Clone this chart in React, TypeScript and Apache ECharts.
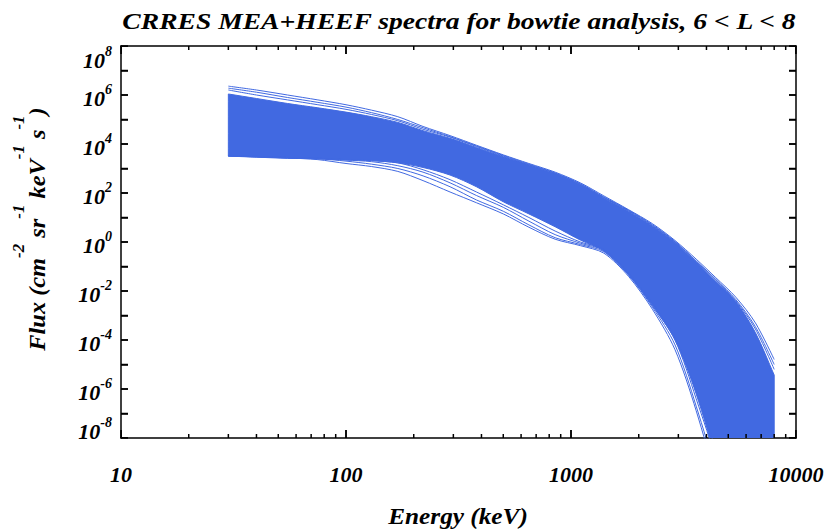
import React, { useEffect, useRef } from "react";
import * as echarts from "echarts";

// ---- data ----
const ENERGY_KEV = [30, 40, 55, 75, 100, 130, 170, 220, 290, 380, 500, 650, 850, 1100, 1400, 1800, 2300, 2900, 3600, 4400, 5400, 6600, 8000];

// envelope of the dense bundle of spectra
const BAND_UPPER = [1.1e6, 7.2e5, 4.5e5, 3.0e5, 2.0e5, 1.3e5, 7.6e4, 3.5e4, 1.7e4, 7.2e3, 3.0e3, 1.4e3, 620, 220, 63, 18, 4.5, 0.95, 0.15, 0.025, 3.7e-3, 2.0e-4, 3.7e-6];
const BAND_LOWER = [3.2e3, 3.0e3, 2.7e3, 2.5e3, 2.3e3, 2.1e3, 1.7e3, 1.1e3, 540, 180, 44, 14, 4.2, 1.2, 0.43, 0.047, 2.6e-3, 1.0e-4, 6.3e-7, 1e-9, 1e-14, 1e-20, 1e-26];

// individual spectra visible on the upper fringe
const UPPER_SPEC_1 = [2.3e6, 1.6e6, 1.0e6, 6.3e5, 4.0e5, 2.4e5, 1.3e5, 5.2e4, 2.2e4, 8.9e3, 3.6e3, 1.6e3, 710, 260, 76, 21, 5.6, 1.15, 0.2, 0.035, 5.6e-3, 5.0e-4, 1.6e-5];
const UPPER_SPEC_2 = [1.9e6, 1.3e6, 7.9e5, 5.0e5, 3.2e5, 1.9e5, 1.0e5, 4.6e4, 2.0e4, 8.3e3, 3.4e3, 1.5e3, 660, 240, 69, 20, 5.1, 1.05, 0.17, 0.030, 4.5e-3, 3.5e-4, 1.0e-5];
const UPPER_SPEC_3 = [1.6e6, 1.0e6, 6.3e5, 4.0e5, 2.6e5, 1.6e5, 8.9e4, 4.0e4, 1.9e4, 7.9e3, 3.2e3, 1.4e3, 630, 230, 66, 19, 4.8, 1.0, 0.16, 0.028, 4.0e-3, 2.8e-4, 6.3e-6];

// individual spectra visible below the bundle
const LOWER_SPEC_1 = [3.2e3, 3.0e3, 2.7e3, 2.3e3, 1.6e3, 1.2e3, 760, 320, 110, 40, 14, 4.0, 1.3, 0.71, 0.35, 0.040, 1.8e-3, 4.0e-5, 1.3e-7, 1.6e-10, 1e-14, 1e-20, 1e-26];
const LOWER_SPEC_2 = [3.3e3, 3.0e3, 2.8e3, 2.5e3, 2.0e3, 1.5e3, 1.0e3, 500, 180, 52, 18, 5.0, 1.5, 0.79, 0.40, 0.045, 2.2e-3, 6.3e-5, 2.0e-7, 3.2e-10, 1e-14, 1e-20, 1e-26];
const LOWER_SPEC_3 = [3.2e3, 2.9e3, 2.6e3, 2.5e3, 2.2e3, 1.9e3, 1.3e3, 710, 260, 79, 26, 7.1, 2.0, 0.89, 0.45, 0.050, 2.5e-3, 1.0e-4, 4.0e-7, 1.0e-9, 1e-14, 1e-20, 1e-26];
const LOWER_SPEC_4 = [3.4e3, 3.1e3, 2.8e3, 2.6e3, 2.3e3, 2.1e3, 1.7e3, 890, 350, 110, 33, 10, 2.8, 1.0, 0.5, 0.056, 3.2e-3, 1.3e-4, 7.9e-7, 2.5e-9, 1e-14, 1e-20, 1e-26];

// axes
const X_MIN = 10;
const X_MAX = 10000;
const X_TICK_VALUES = [10, 100, 1000, 10000];
const X_TICK_LABELS = ["10", "100", "1000", "10000"];
const X_MINOR_TICKS = [20, 30, 40, 50, 60, 70, 80, 90, 200, 300, 400, 500, 600, 700, 800, 900, 2000, 3000, 4000, 5000, 6000, 7000, 8000, 9000];
const Y_MIN = 1e-8;
const Y_MAX = 1e8;
const Y_TICK_VALUES = [1e-8, 1e-7, 1e-6, 1e-5, 1e-4, 1e-3, 1e-2, 1e-1, 1, 1e1, 1e2, 1e3, 1e4, 1e5, 1e6, 1e7, 1e8];
const Y_LABEL_EXPONENTS = [-8, -6, -4, -2, 0, 2, 4, 6, 8];

const TITLE = "CRRES MEA+HEEF spectra for bowtie analysis, 6 < L < 8";
const X_NAME = "Energy (keV)";

const BLUE = "#4169E1";
const SERIF = "Liberation Serif";

export default function App() {
  const ref = useRef<HTMLDivElement>(null);

  useEffect(() => {
    document.body.style.margin = "0";
    const chart = echarts.init(ref.current!, null, { renderer: "svg" });

    const lx = (v: number) => Math.log10(v);
    const fontBase = { fontFamily: SERIF, fontWeight: "bold" as const, fontStyle: "italic" as const, color: "#000" };
    const axisLineStyle = { show: true, onZero: false, lineStyle: { color: "#000", width: 1.5 } };

    // framing axes (line, decade ticks, labels) in decade units, sharing the grid with the log data axes
    const decoX = (position: "top" | "bottom", labels: boolean) => ({
      type: "value",
      position,
      min: lx(X_MIN),
      max: lx(X_MAX),
      interval: 1,
      axisLine: axisLineStyle,
      splitLine: { show: false },
      axisTick: { show: true, inside: true, length: 8, lineStyle: { color: "#000", width: 1.5 } },
      axisLabel: labels
        ? {
            show: true,
            margin: 25,
            ...fontBase,
            fontSize: 22,
            formatter: (v: number) => {
              const i = X_TICK_VALUES.findIndex((t) => Math.abs(lx(t) - v) < 1e-6);
              return i >= 0 ? X_TICK_LABELS[i] : "";
            },
          }
        : { show: false },
    });

    const yMaxExp = Y_LABEL_EXPONENTS[Y_LABEL_EXPONENTS.length - 1];
    const yMinExp = Y_LABEL_EXPONENTS[0];
    const decoY = (position: "left" | "right", labels: boolean) => ({
      type: "value",
      position,
      min: lx(Y_MIN),
      max: lx(Y_MAX),
      interval: 1,
      axisLine: axisLineStyle,
      splitLine: { show: false },
      axisTick: { show: true, inside: true, length: 7, lineStyle: { color: "#000", width: 1.5 } },
      axisLabel: labels
        ? {
            show: true,
            margin: 9,
            padding: [1, 0, 0, 0],
            formatter: (v: number) => {
              if (Y_LABEL_EXPONENTS.indexOf(v) < 0) return "";
              const core = `{b|10}{s|${v}}`;
              if (v === yMaxExp) return `{sp|}\n${core}`;
              if (v === yMinExp) return `${core}\n{sq|}`;
              return core;
            },
            rich: {
              b: { ...fontBase, fontSize: 22, lineHeight: 27, verticalAlign: "bottom" },
              s: { ...fontBase, fontSize: 14, verticalAlign: "top" },
              sp: { fontSize: 1, lineHeight: 23 },
              sq: { fontSize: 1, lineHeight: 19 },
            },
          }
        : { show: false },
    });

    const lineSeries = (name: string, values: number[]) => ({
      name,
      type: "line",
      xAxisIndex: 0,
      yAxisIndex: 0,
      data: ENERGY_KEV.map((e, i) => [e, values[i]]),
      showSymbol: false,
      smooth: 0.3,
      lineStyle: { color: BLUE, width: 1 },
    });

    // tick marks as a clipped custom series (same mechanism as the band), one filled polygon per tick
    const tickPoly = (cx: number, cy: number, dx: number, dy: number, horizontal: boolean) => {
      const h = 0.75;
      return horizontal
        ? [[cx, cy - h], [cx + dx, cy - h], [cx + dx, cy + h], [cx, cy + h]]
        : [[cx - h, cy], [cx + h, cy], [cx + h, cy + dy], [cx - h, cy + dy]];
    };
    const xTickData: number[][] = [];
    X_TICK_VALUES.forEach((v) => {
      xTickData.push([v, Y_MIN, 8]);
      xTickData.push([v, Y_MAX, 8]);
    });
    X_MINOR_TICKS.forEach((v) => {
      xTickData.push([v, Y_MIN, 4]);
      xTickData.push([v, Y_MAX, 4]);
    });
    const yTickData: number[][] = [];
    Y_TICK_VALUES.forEach((v) => {
      yTickData.push([X_MIN, v, 7]);
      yTickData.push([X_MAX, v, 7]);
    });

    const option: any = {
      animation: false,
      backgroundColor: "#fff",
      grid: { left: 121, right: 40, top: 46, bottom: 91, containLabel: false, outerBoundsMode: "none" },
      xAxis: [
        { type: "log", logBase: 10, min: X_MIN, max: X_MAX, show: false },
        decoX("bottom", true),
        decoX("top", false),
      ],
      yAxis: [
        { type: "log", logBase: 10, min: Y_MIN, max: Y_MAX, show: false },
        decoY("left", true),
        decoY("right", false),
      ],
      series: [
        {
          name: "band",
          type: "custom",
          xAxisIndex: 0,
          yAxisIndex: 0,
          clip: true,
          data: ENERGY_KEV.map((e, i) => [e, BAND_UPPER[i], BAND_LOWER[i]]),
          encode: { x: 0, y: [1, 2] },
          renderItem: (params: any, api: any) => {
            if (params.dataIndex !== 0) return { type: "group", children: [] };
            const top = ENERGY_KEV.map((e, i) => api.coord([e, BAND_UPPER[i]]));
            const bottom = ENERGY_KEV.map((e, i) => api.coord([e, BAND_LOWER[i]])).reverse();
            // duplicated corner points keep the ends of the band square while the edges are smoothed
            const pts = [top[0], ...top, top[top.length - 1], bottom[0], ...bottom, bottom[bottom.length - 1]];
            return {
              type: "polygon",
              shape: { points: pts, smooth: 0.3 },
              style: { fill: BLUE, stroke: BLUE, lineWidth: 1 },
            };
          },
        },
        lineSeries("upper 1", UPPER_SPEC_1),
        lineSeries("upper 2", UPPER_SPEC_2),
        lineSeries("upper 3", UPPER_SPEC_3),
        lineSeries("lower 1", LOWER_SPEC_1),
        lineSeries("lower 2", LOWER_SPEC_2),
        lineSeries("lower 3", LOWER_SPEC_3),
        lineSeries("lower 4", LOWER_SPEC_4),
        {
          name: "x ticks",
          type: "custom",
          xAxisIndex: 0,
          yAxisIndex: 0,
          clip: true,
          z: 5,
          data: xTickData,
          encode: { x: 0, y: 1 },
          renderItem: (params: any, api: any) => {
            const v = api.value(0);
            const edge = api.value(1);
            const len = api.value(2);
            const p = api.coord([v, edge]);
            const dy = edge === Y_MIN ? -len : len;
            return { type: "polygon", shape: { points: tickPoly(p[0], p[1], 0, dy, false) }, style: { fill: "#000" } };
          },
        },
        {
          name: "y ticks",
          type: "custom",
          xAxisIndex: 0,
          yAxisIndex: 0,
          clip: true,
          z: 5,
          data: yTickData,
          encode: { x: 0, y: 1 },
          renderItem: (params: any, api: any) => {
            const edge = api.value(0);
            const v = api.value(1);
            const len = api.value(2);
            const p = api.coord([edge, v]);
            const dx = edge === X_MIN ? len : -len;
            return { type: "polygon", shape: { points: tickPoly(p[0], p[1], dx, 0, true) }, style: { fill: "#000" } };
          },
        },
      ],
    };

    chart.setOption(option);

    const textGraphics: any[] = [
      {
        id: "title",
        type: "text",
        x: 459,
        y: 21,
        scaleX: 1.2,
        style: { text: TITLE, fill: "#000", fontFamily: SERIF, fontSize: 23, fontWeight: "bold", fontStyle: "italic", align: "center", verticalAlign: "middle" },
      },
      {
        id: "xname",
        type: "text",
        x: 458,
        y: 516,
        scaleX: 1.1,
        style: { text: X_NAME, fill: "#000", fontFamily: SERIF, fontSize: 23, fontWeight: "bold", fontStyle: "italic", align: "center", verticalAlign: "middle" },
      },
      {
        id: "yname",
        type: "text",
        x: 30,
        y: 229,
        rotation: Math.PI / 2,
        scaleX: 1.06,
        style: {
          text: "{b|Flux (cm}{s|-2}{b| sr}{s|-1}{b| keV}{s|-1}{b| s}{s|-1}{b|)}",
          fill: "#000",
          align: "center",
          verticalAlign: "middle",
          rich: {
            b: { fontFamily: SERIF, fontSize: 23, fontWeight: "bold", fontStyle: "italic", fill: "#000", lineHeight: 38, verticalAlign: "bottom" },
            s: { fontFamily: SERIF, fontSize: 16, fontWeight: "bold", fontStyle: "italic", fill: "#000", verticalAlign: "top" },
          },
        },
      },
    ];
    chart.setOption({ graphic: textGraphics });

    return () => chart.dispose();
  }, []);

  return <div ref={ref} style={{ width: 836, height: 529 }} />;
}
